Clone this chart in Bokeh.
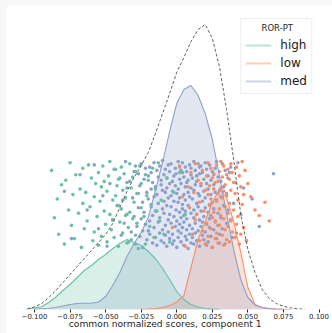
from bokeh.plotting import figure
from bokeh.models import Range1d, FixedTicker, Legend, LegendItem
from bokeh.layouts import column
from bokeh.embed import file_html
from bokeh.resources import INLINE

# ---------------- data ----------------
groups = ["high", "low", "med"]
colors = ["#66c2a5", "#fc8d62", "#8da0cb"]
legend_title = "ROR-PT"
x_label = "common normalized scores, component 1"
tick_values = [-0.1, -0.075, -0.05, -0.025, 0.0, 0.025, 0.05, 0.075, 0.1]
tick_labels = ["\u22120.100", "\u22120.075", "\u22120.050", "\u22120.025", "0.000",
               "0.025", "0.050", "0.075", "0.100"]

# KDE evaluation grid (common normalized scores)
kde_x = [-0.105, -0.100, -0.095, -0.090, -0.085, -0.080, -0.075, -0.070, -0.065, -0.060,
         -0.055, -0.050, -0.045, -0.040, -0.035, -0.030, -0.025, -0.020, -0.015, -0.010,
         -0.005, 0.000, 0.005, 0.010, 0.015, 0.020, 0.025, 0.030, 0.035, 0.040,
         0.045, 0.050, 0.055, 0.060, 0.065, 0.070, 0.075, 0.080, 0.085, 0.090]

# overall density (dashed), whole grid
total_density = [0.04, 0.125, 0.3, 0.6, 0.95, 1.35, 1.75, 2.15, 2.55, 2.95,
                 3.35, 3.75, 4.3, 5.1, 5.9, 6.6, 7.2, 7.85, 8.8, 9.8,
                 10.8, 11.85, 12.6, 13.4, 14.0, 14.25, 13.55, 12.15, 10.0, 7.5,
                 4.75, 3.0, 1.85, 1.0, 0.55, 0.3, 0.165, 0.08, 0.035, 0.01]
# per-group densities, each starting at the grid index in support_start
high_density = [0.025, 0.08, 0.14, 0.35, 0.625, 0.95, 1.25, 1.6, 1.95, 2.2,
                2.5, 2.75, 3.05, 3.3, 3.5, 3.35, 3.2, 2.9, 2.55, 2.05,
                1.5, 0.9, 0.5, 0.25, 0.125, 0.05, 0.02, 0.005]
low_density = [0.01, 0.025, 0.05, 0.1, 0.2, 0.375, 0.7, 2.1, 3.5, 4.4,
               5.35, 6.0, 5.6, 4.4, 2.85, 1.1, 0.25, 0.1, 0.035, 0.015,
               0.005, 0.0]
med_density = [0.015, 0.04, 0.065, 0.1, 0.175, 0.25, 0.3, 0.315, 0.31, 0.375,
               0.65, 1.2, 1.85, 2.65, 3.3, 3.85, 4.6, 5.95, 7.35, 8.9,
               10.3, 11.0, 11.2, 10.7, 9.8, 8.5, 6.7, 4.8, 3.0, 1.5,
               0.6, 0.225, 0.1, 0.05, 0.02, 0.005]
support_start = {"high": 0, "low": 16, "med": 1}

# strip points: score and vertical jitter
high_scores = [-.088, -.086, -.084, -.083, -.081,
               -.079, -.078, -.076, -.075, -.074, -.073, -.072, -.071,
               -.069, -.068, -.067, -.066, -.066, -.065, -.064, -.063, -.062, -.061, -.060,
               -.059, -.058, -.058, -.057, -.056, -.055, -.055, -.054, -.053, -.053, -.052, -.051, -.051, -.050,
               -.049, -.049, -.048, -.047, -.047, -.046, -.045, -.045, -.044, -.044, -.043, -.042, -.042, -.041, -.041, -.040,
               -.039, -.039, -.038, -.038, -.037, -.036, -.036, -.035, -.035, -.034, -.033, -.033, -.032, -.032, -.031, -.031, -.030,
               -.029, -.029, -.028, -.027, -.027, -.026, -.025, -.025, -.024, -.023, -.022, -.022, -.021, -.020,
               -.019, -.018, -.017, -.016, -.015, -.014, -.013, -.012, -.011,
               -.009, -.007, -.005, -.002, .002, .006]
high_jitter = [.31, -.12, .05, -.27, .18, -.36, .22, -.05, .38, -.19,
               .09, -.31, .27, -.08, .14, -.39, .01, .33, -.22, .11,
               -.15, .36, -.02, .24, -.33, .07, -.25, .19, -.11, .29,
               -.37, .03, .16, -.29, .35, -.06, .21, -.18, .12, -.34,
               .26, -.09, .39, -.23, .04, -.14, .32, -.30, .08, -.01,
               .17, -.38, .23, -.16, .34, -.04, .13, -.26, .28, -.10,
               .06, -.35, .20, -.21, .37, -.07, .15, -.32, .25, -.13,
               .02, -.28, .30, -.17, .10, -.40, .35, -.03, .19, -.24,
               -.11, .27, -.36, .08, .22, -.20, .00, .33, -.30, .14,
               -.06, .38, -.15, .04, -.27, .24, -.34, .11, .29, -.09]

low_scores = [-.003,
              .002, .004, .006, .008, .009,
              .010, .011, .012, .013, .013, .014, .015, .016, .016, .017, .018, .018, .019, .020,
              .020, .021, .021, .022, .022, .022, .023, .023, .024, .024, .024, .025, .025, .025,
              .026, .026, .026, .027, .027, .027, .028, .028, .028, .029, .029, .029, .030,
              .030, .030, .031, .031, .031, .032, .032, .032, .033, .033, .033, .033, .034, .034, .034,
              .035, .035, .035, .036, .036, .036, .037, .037, .037, .038, .038, .038, .039, .039, .040,
              .040, .041, .041, .042, .042, .043, .043, .044, .044, .045, .045, .046, .046, .047, .047,
              .048, .049, .050,
              .052, .055, .058, .062, .065]
low_jitter = [-.21, .34, .07, -.38, .16, -.03, .29, -.27, .11, -.14,
              .37, -.09, .22, -.33, .02, .19, -.24, .31, -.06, .13,
              -.36, .26, -.17, .09, -.29, .38, -.01, .17, -.22, .05,
              .33, -.12, .24, -.39, .14, -.07, .28, -.31, .20, -.16,
              .03, .36, -.26, .10, -.35, .21, -.04, .30, -.19, .15,
              -.10, .39, -.28, .06, .25, -.37, .12, -.13, .35, -.23,
              .18, -.02, .27, -.32, .08, -.20, .32, -.08, .23, -.34,
              .01, .37, -.15, .13, -.25, .29, -.05, .20, -.30, .10,
              -.18, .34, -.11, .04, -.36, .26, -.27, .16, .39, -.00,
              .09, -.21, .31, -.33, .19, .07, -.05, -.10, .02, -.15]

med_scores = [-.079, -.074, -.068, -.063,
              -.058, -.055, -.052, -.049, -.047, -.045, -.043, -.041,
              -.040, -.039, -.038, -.037, -.036, -.035, -.035, -.034, -.033, -.032, -.031, -.030,
              -.030, -.029, -.029, -.028, -.028, -.027, -.027, -.026, -.026, -.025,
              -.025, -.024, -.024, -.023, -.023, -.022, -.022, -.021, -.021, -.020,
              -.020, -.020, -.019, -.019, -.019, -.018, -.018, -.018, -.017, -.017,
              -.017, -.016, -.016, -.016, -.015, -.015, -.015, -.014, -.014, -.014,
              -.013, -.013, -.013, -.012, -.012, -.012, -.011, -.011, -.011, -.010,
              -.010, -.010, -.010, -.009, -.009, -.009, -.009, -.008, -.008, -.008,
              -.008, -.007, -.007, -.007, -.007, -.006, -.006, -.006, -.006, -.005,
              -.005, -.005, -.005, -.004, -.004, -.004, -.004, -.003, -.003, -.003,
              -.003, -.002, -.002, -.002, -.002, -.001, -.001, -.001, -.0005, -.0005,
              .000, .000, .000, .001, .001, .001, .001, .001, .002, .002,
              .002, .002, .002, .003, .003, .003, .003, .003, .004, .004,
              .004, .004, .004, .005, .005, .005, .005, .005, .006, .006,
              .006, .006, .006, .007, .007, .007, .007, .007, .008, .008,
              .008, .008, .009, .009, .009, .009,
              .010, .010, .010, .010, .010, .011, .011, .011, .011, .012,
              .012, .012, .012, .012, .013, .013, .013, .013, .014, .014,
              .014, .014, .014, .015, .015, .015, .015, .016, .016, .016,
              .016, .016, .017, .017, .017, .017, .018, .018, .018, .018,
              .019, .019, .019, .019,
              .020, .020, .020, .020, .021, .021, .021, .021, .022, .022,
              .022, .022, .023, .023, .023, .023, .024, .024, .024, .024,
              .025, .025, .025, .026, .026, .026, .026, .027, .027, .027,
              .028, .028, .028, .029, .029, .029,
              .030, .030, .030, .031, .031, .031, .032, .032, .033, .033,
              .034, .034, .035, .035, .036, .036, .037, .038, .038, .039,
              .040, .041, .042, .043, .045, .047, .049,
              .053, .058, .068]
med_jitter = [.12, -.31, .27, -.05, .36, -.22, .08, -.38, .19, -.14, .32, -.01, .24, -.28, .04,
              -.17, .39, -.09, .15, -.34, .21, -.25, .06, .30, -.11, .35, -.36, .10, -.20, .28,
              -.03, .17, -.29, .37, -.13, .02, -.39, .23, -.07, .33, -.18, .11, -.32, .26, -.24,
              .05, -.15, .34, -.27, .14, -.02, .29, -.35, .20, -.10, .38, -.21, .07, -.30, .16,
              -.06, .31, -.37, .09, .25, -.16, .01, -.26, .35, -.12, .18, -.33, .22, -.04, .13,
              -.23, .40, -.08, .27, -.35, .03, -.19, .32, -.28, .11, -.01, .24, -.38, .15, .06,
              -.14, .36, -.25, .19, -.09, .30, -.31, .08, -.17, .37, -.02, .21, -.36, .12, -.27,
              .26, -.11, .03, -.33, .33, -.20, .17, -.05, .28, -.39, .10, -.15, .39, -.24, .02,
              .14, -.30, .23, -.07, .35, -.18, .06, -.34, .31, -.12, .19, -.26, .00, .29, -.21,
              -.04, .38, -.16, .09, -.37, .25, -.10, .16, -.29, .34, -.06, .04, -.23, .20, -.32,
              .30, -.13, .11, -.40, .22, -.01, .36, -.19, .07, -.27, .27, -.08, .15, -.35, .33,
              -.22, .05, -.30, .24, -.12, .39, -.05, .13, -.36, .18, -.17, .31, -.26, .01, .26,
              -.09, .21, -.33, .37, -.02, .10, -.24, .28, -.14, .34, -.38, .08, -.20, .17, -.06,
              .35, -.28, .03, -.16, .29, -.32, .12, -.11, .23, -.03, .38, -.25, .06, -.37, .19,
              -.18, .32, -.07, .14, -.34, .26, -.21, .00, .36, -.13, .09, -.29, .22, -.10, .30,
              .02, -.39, .18, -.04, .27, -.23, .33, -.15, .11, -.31, .04, .39, -.19, .25, -.08,
              -.27, .13, -.35, .21, .07, -.12, .37, -.22, .16, -.01, .31, -.36, .10, -.17, .24,
              -.05, .29, -.14, .34, -.30, .01, .20, -.26, .38, -.09, .15, -.33, .05, -.20, .28]

densities = {"high": high_density, "low": low_density, "med": med_density}
points = {"high": (high_scores, high_jitter), "low": (low_scores, low_jitter),
          "med": (med_scores, med_jitter)}

# ---------------- figure ----------------
FONT = "DejaVu Sans"
p = figure(width=326, height=328, output_backend="svg", toolbar_location=None,
           x_range=Range1d(-0.10703, 0.10105), y_range=Range1d(0, 14.95),
           y_axis_location=None,
           min_border_left=18, min_border_right=12, min_border_top=5, min_border_bottom=24,
           background_fill_color="white", border_fill_color="white")
p.outline_line_color = None
p.grid.visible = False
p.extra_y_ranges = {"strip": Range1d(-0.9545, 1.7636)}

# filled densities
for g, c in zip(groups, colors):
    d = densities[g]
    s = support_start[g]
    xs = kde_x[s:s + len(d)]
    p.varea(x=xs, y1=[0] * len(d), y2=d, fill_color=c, fill_alpha=0.25)

# strip points
for g, c in zip(["med", "high", "low"], [colors[2], colors[0], colors[1]]):
    xs, ys = points[g]
    n = min(len(xs), len(ys))
    p.scatter(x=xs[:n], y=ys[:n], y_range_name="strip", size=3.6,
              fill_color=c, line_color=None)

# density outlines
for g, c in zip(groups, colors):
    d = densities[g]
    s = support_start[g]
    xs = kde_x[s:s + len(d)]
    p.line(x=xs, y=d, line_color=c, line_width=1.1)

p.line(x=kde_x, y=total_density, line_color="#5f5f5f", line_width=1, line_dash="3 2")

# axis
ax = p.xaxis[0]
ax.ticker = FixedTicker(ticks=tick_values)
ax.major_label_overrides = dict(zip(tick_values, tick_labels))
ax.axis_line_color = None
ax.major_tick_line_color = "#262626"
ax.major_tick_out = 3
ax.major_tick_in = 0
ax.minor_tick_line_color = None
ax.major_label_text_font = FONT
ax.major_label_text_font_size = "7px"
ax.major_label_text_line_height = 1.0
ax.major_label_text_color = "#262626"
ax.major_label_standoff = 0
# trailing no-break spaces shift the centred title slightly left, as in the source
ax.axis_label = x_label + "\u00a0" * 5
ax.axis_label_text_font = FONT
ax.axis_label_text_font_size = "9.2px"
ax.axis_label_text_line_height = 1.0
ax.axis_label_text_font_style = "normal"
ax.axis_label_text_color = "#262626"
ax.axis_label_standoff = -4

# legend with pale line swatches (one placeholder point each, not drawn)
nan = float("nan")
items = []
for g, c in zip(groups, colors):
    r = p.line(x=[nan], y=[nan], line_color=c, line_alpha=0.45, line_width=2)
    items.append(LegendItem(label=g, renderers=[r]))
legend = Legend(items=items, location="top_right",
                title="\u00a0" * 6 + legend_title,
                title_text_font=FONT, title_text_font_size="8.5px",
                title_text_font_style="normal", title_text_color="#262626",
                label_text_font=FONT, label_text_font_size="12px", label_text_color="#1a1a1a",
                glyph_width=26, glyph_height=16, label_height=16, label_standoff=9,
                spacing=2, padding=4, margin=8, title_standoff=4,
                border_line_color="#dcdcdc", border_line_width=1,
                background_fill_color="white", background_fill_alpha=0.85)
p.add_layout(legend)

page = column(p, styles={"background-color": "#f7f7f7", "padding-left": "6px",
                         "padding-top": "5px"})
open("out.html", "w").write(file_html(page, INLINE))
